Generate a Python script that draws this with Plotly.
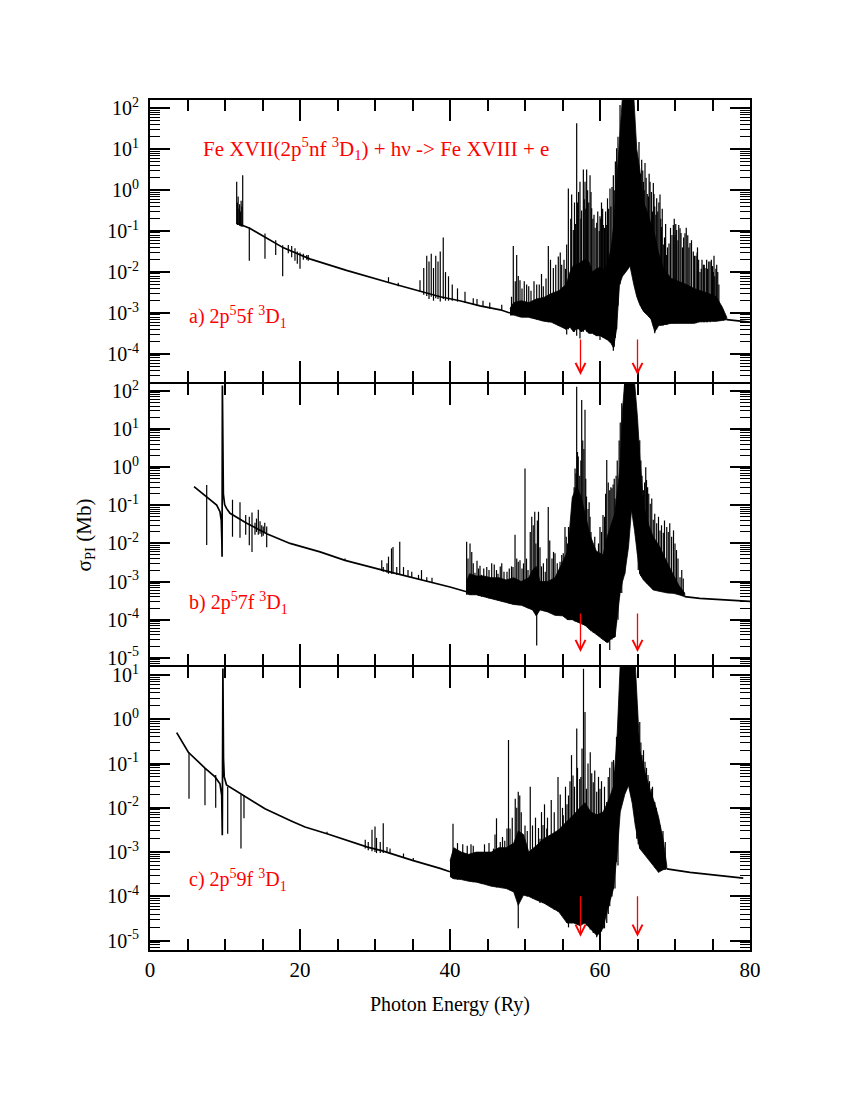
import plotly.graph_objects as go

# ---------------- panel (a): 2p5 5f 3D1  (cross section in Mb) ----------------
a_bg_x = [11.6, 13.3, 15.3, 17.8, 21.3, 26.2, 32.4, 36.0, 38.7, 41.3, 44.0, 46.7, 48.0, None, 76.9, 80.0]
a_bg_y = [0.155, 0.117, 0.072, 0.039, 0.021, 0.011, 5.2e-3, 3.5e-3, 2.5e-3, 2.0e-3, 1.5e-3, 1.2e-3, 1.0e-3, None, 6.9e-4, 6.0e-4]

a_band_x = [48.0, 48.5, 49.5, 50.5, 51.5, 52.5, 53.5, 54.5, 55.5, 56.0, 56.5, 57.0, 57.5, 58.0, 58.5,
            59.0, 59.5, 60.0, 60.5, 61.0, 61.5, 61.8, 62.2, 62.6, 63.0, 63.6, 64.0, 64.5, 64.9, 65.3,
            65.8, 66.3, 66.8, 67.3, 67.8, 68.5, 69.5, 70.5, 71.5, 72.5, 73.5, 74.5, 75.5, 76.3, 76.9]
a_band_hi = [1.3e-3, 1.8e-3, 2.0e-3, 1.8e-3, 2.2e-3, 2.4e-3, 3.0e-3, 3.5e-3, 5.0e-3, 0.01, 0.015, 0.015, 0.018, 0.02, 0.018,
             0.01, 0.012, 0.013, 0.012, 0.015, 0.04, 0.13, 1.3, 16, 200, 200, 200, 200, 10, 3.2,
             0.5, 0.3, 0.15, 0.08, 0.03, 0.012, 7.0e-3, 6.0e-3, 5.0e-3, 4.0e-3, 3.5e-3, 3.0e-3, 2.5e-3, 1.4e-3, 7.9e-4]
a_band_lo = [8.9e-4, 8.9e-4, 7.9e-4, 7.9e-4, 7.1e-4, 6.3e-4, 6.0e-4, 5.0e-4, 4.0e-4, 4.5e-4, 3.5e-4, 4.5e-4, 3.5e-4, 4.0e-4, 3.2e-4,
             3.2e-4, 2.8e-4, 2.8e-4, 2.5e-4, 2.2e-4, 1.8e-4, 1.4e-4, 4.0e-4, 5.0e-3, 7.9e-3, 0.011, 0.014, 5.0e-3, 2.5e-3, 1.6e-3,
             1.1e-3, 8.9e-4, 7.1e-4, 3.5e-4, 5.0e-4, 5.2e-4, 5.6e-4, 5.6e-4, 5.6e-4, 5.6e-4, 6.3e-4, 6.3e-4, 6.3e-4, 6.6e-4, 6.9e-4]

a_low_x = [11.56, 11.65, 11.75, 11.85, 11.95, 12.05, 12.15, 12.25, 12.36, 13.24, 15.33, 16.76, 17.69, 18.44,
           18.89, 19.33, 19.64, 20.0, 20.44, 20.9, 21.1]
a_low_hi = [1.6, 0.5, 0.7, 0.35, 0.45, 0.3, 0.55, 0.4, 2.3, 0.125, 0.087, 0.06, 0.045, 0.046,
            0.043, 0.038, 0.032, 0.03, 0.028, 0.026, 0.026]
a_low_lo = [0.15, 0.14, 0.14, 0.14, 0.135, 0.135, 0.13, 0.13, 0.13, 0.019, 0.021, 0.026, 7.9e-3, 0.029,
            0.023, 0.019, 0.016, 0.012, 0.02, 0.02, 0.019]

a_mid_x = [31.8, 33.1, 36.0, 36.5, 36.9, 37.2, 37.5, 37.8, 38.1, 38.4, 38.7, 39.1, 39.4, 39.8, 40.3, 41.0,
           42.0, 43.1, 43.6, 44.4, 45.3, 46.9]
a_mid_hi = [7.5e-3, 5.5e-3, 6.3e-3, 0.0126, 0.025, 0.018, 0.028, 0.0126, 0.025, 0.018, 0.032, 0.07, 0.01, 7.9e-3, 5.0e-3, 4.0e-3,
            3.3e-3, 2.3e-3, 2.2e-3, 2.0e-3, 1.8e-3, 1.6e-3]
a_mid_lo = [5.5e-3, 4.5e-3, 3.3e-3, 2.8e-3, 2.6e-3, 2.2e-3, 2.5e-3, 2.0e-3, 2.3e-3, 2.2e-3, 1.9e-3, 2.2e-3, 2.0e-3, 2.0e-3, 2.0e-3, 1.9e-3,
            1.75e-3, 1.6e-3, 1.5e-3, 1.4e-3, 1.3e-3, 1.15e-3]

a_res_x = [48.44, 48.89, 49.33, 50.22, 51.56, 52.44, 53.11, 53.78, 54.44, 54.89,
           55.56, 55.78, 56.22, 56.44, 56.89, 57.0, 57.33, 57.55, 57.78, 58.0,
           58.22, 58.67, 58.89, 59.2, 59.56, 60.0, 60.2, 60.44, 60.89, 61.0,
           61.33, 61.78, 62.22, 62.67,
           65.56, 65.8, 66.0, 66.3, 66.67, 67.11,
           67.3, 67.56, 68.0, 68.2, 68.44, 68.89, 69.2, 69.78, 70.0, 70.22,
           70.67, 71.0, 71.33, 71.7, 72.0, 72.44, 72.8, 73.0, 73.33, 73.78,
           74.0, 74.22, 74.67, 75.11, 75.3, 75.56, 76.0, 76.44]
a_res_hi = [0.043, 0.026, 6.3e-3, 5.0e-3, 5.0e-3, 4.5e-3, 0.043, 0.0126, 0.024, 0.015,
            0.047, 1.1, 0.78, 0.107, 43, 0.5, 1.6, 0.32, 3.2, 1.6,
            3.2, 2.3, 0.36, 0.25, 0.16, 0.23, 0.5, 0.14, 0.14, 0.63,
            1.1, 2.3, 10.5, 120,
            5.5, 1.6, 4.6, 0.8, 1.6, 1.5,
            0.4, 0.63, 0.78, 0.126, 0.047, 0.026, 0.05, 0.14, 0.079, 0.107,
            0.117, 0.04, 0.089, 0.079, 0.051, 0.032, 0.025, 0.04, 0.01, 0.015,
            0.0126, 0.02, 0.018, 0.01, 7.9e-3, 0.015, 1.45e-3, 1.2e-3]
a_res_lo = [9e-4, 9e-4, 8e-4, 8e-4, 7e-4, 6.5e-4, 6e-4, 6e-4, 5e-4, 5e-4,
            3.0e-4, 4e-4, 4e-4, 3.5e-4, 2.8e-4, 4e-4, 2.4e-4, 3.5e-4, 3.5e-4, 4e-4,
            3.5e-4, 3.2e-4, 3.2e-4, 3e-4, 2.8e-4, 2.2e-4, 2.8e-4, 2.5e-4, 2.3e-4, 2.2e-4,
            2e-4, 1.2e-4, 4e-4, 5e-3,
            1.3e-3, 1.1e-3, 1e-3, 8.9e-4, 8e-4, 5e-4,
            3.2e-4, 4e-4, 5e-4, 5e-4, 5e-4, 5.2e-4, 5.5e-4, 5.6e-4, 5.6e-4, 5.6e-4,
            5.6e-4, 5.6e-4, 5.6e-4, 5.6e-4, 5.6e-4, 5.6e-4, 5.6e-4, 6e-4, 6e-4, 6e-4,
            6e-4, 6e-4, 6e-4, 6.3e-4, 6.3e-4, 6.3e-4, 6.5e-4, 6.6e-4]

a_res2_x = [48.2, 48.7, 49.1, 49.6, 49.9, 50.5, 50.8, 51.2, 51.9, 52.2,
            52.8, 53.4, 54.1, 54.7, 55.2, 55.4, 56.1, 56.6, 56.75, 57.15,
            57.45, 57.9, 58.1, 58.35, 58.5, 58.8, 59.05, 59.35, 59.7, 59.9,
            60.1, 60.35, 60.6, 60.75, 61.15, 61.45, 61.6, 61.9, 62.05, 62.4,
            65.2, 65.4, 65.7, 65.9, 66.15, 66.45, 66.55, 66.85, 67.0, 67.2,
            67.45, 67.7, 67.85, 68.1, 68.3, 68.6, 68.75, 69.0, 69.4, 69.6,
            69.9, 70.1, 70.4, 70.5, 70.8, 71.15, 71.5, 71.85, 72.2, 72.6,
            72.95, 73.15, 73.5, 73.6, 73.9, 74.35, 74.5, 74.85, 75.0, 75.2,
            75.45, 75.7, 75.85]
a_res2_hi = [2.5e-3, 6e-3, 8e-3, 4e-3, 6e-3, 4.5e-3, 3.5e-3, 6e-3, 5e-3, 9e-3,
             7e-3, 0.02, 0.015, 0.03, 0.02, 0.012, 0.2, 0.5, 0.15, 0.9,
             0.2, 0.6, 0.35, 1.0, 0.5, 0.9, 0.2, 0.12, 0.3, 0.1,
             0.2, 0.35, 0.12, 0.3, 0.35, 0.4, 1.2, 1.0, 5, 20,
             15, 2.5, 3, 1.0, 2.0, 0.7, 2.5, 0.9, 0.3, 0.8,
             0.25, 0.3, 0.5, 0.2, 0.35, 0.07, 0.15, 0.04, 0.12, 0.08,
             0.2, 0.15, 0.06, 0.14, 0.09, 0.07, 0.12, 0.04, 0.06, 0.025,
             0.03, 0.02, 0.012, 0.02, 0.015, 0.012, 0.018, 0.02, 0.014, 0.025,
             0.012, 0.01, 5e-3]
a_res2_lo = [9e-4, 9e-4, 8.5e-4, 8e-4, 8e-4, 7.9e-4, 7.5e-4, 7.2e-4, 6.8e-4, 6.5e-4,
             6.2e-4, 6e-4, 5.5e-4, 5e-4, 4.5e-4, 4e-4, 4.5e-4, 3.5e-4, 4e-4, 4e-4,
             3.5e-4, 4e-4, 4e-4, 3.5e-4, 3.2e-4, 3.2e-4, 3.2e-4, 3e-4, 2.8e-4, 2.8e-4,
             2.8e-4, 2.6e-4, 2.5e-4, 2.4e-4, 2.2e-4, 1.9e-4, 1.7e-4, 1.5e-4, 2.5e-4, 1.5e-3,
             2e-3, 1.5e-3, 1.2e-3, 1.1e-3, 9.5e-4, 8.5e-4, 8e-4, 7e-4, 6e-4, 4.5e-4,
             4e-4, 4.5e-4, 5e-4, 5e-4, 5e-4, 5.2e-4, 5.2e-4, 5.3e-4, 5.5e-4, 5.5e-4,
             5.6e-4, 5.6e-4, 5.6e-4, 5.6e-4, 5.6e-4, 5.6e-4, 5.6e-4, 5.6e-4, 5.6e-4, 5.6e-4,
             6e-4, 6e-4, 6e-4, 6e-4, 6e-4, 6e-4, 6.3e-4, 6.3e-4, 6.3e-4, 6.3e-4,
             6.3e-4, 6.4e-4, 6.5e-4]

# ---------------- panel (b): 2p5 7f 3D1 ----------------
b_bg_x = [5.87, 6.67, 7.56, 8.89, 9.33, 9.5, 9.58, 9.61, 9.65, 9.7, 9.78, 9.95, 10.2, 10.67, 12.9, 15.56,
          18.67, 22.67, 26.0, 31.0, 33.0, 36.0, 40.0, 42.2, None, 71.3, 73.3, 80.0]
b_bg_y = [0.31, 0.23, 0.17, 0.102, 0.068, 0.041, 0.012, 4.5e-3, 140, 0.45, 0.2, 0.105, 0.083, 0.062, 0.034, 0.018,
          0.01, 6.0e-3, 3.6e-3, 2.0e-3, 1.6e-3, 1.1e-3, 7.2e-4, 5.4e-4, None, 4.0e-4, 3.6e-4, 3.0e-4]

b_band_x = [42.2, 42.6, 43.5, 44.5, 45.5, 46.5, 47.5, 48.5, 49.5, 50.5,
            51.0, 51.5, 52.0, 53.0, 54.0, 55.0, 55.7, 56.3, 56.9, 57.5,
            58.0, 58.7, 59.5, 60.4, 61.0, 61.5, 62.0, 62.67, 63.0, 63.3,
            63.8, 64.2, 64.6, 65.0, 65.3, 65.8, 66.5, 67.1, 68.0, 69.0,
            69.8, 70.5, 71.3]
b_band_hi = [1.0e-3, 1.6e-3, 1.4e-3, 1.4e-3, 1.26e-3, 1.26e-3, 1.1e-3, 1.26e-3, 1.0e-3, 1.26e-3,
             2.0e-3, 2.5e-3, 1.0e-3, 1.0e-3, 1.26e-3, 3.2e-3, 6.3e-3, 0.16, 0.32, 0.16,
             0.063, 0.016, 6.3e-3, 5.0e-3, 0.016, 0.032, 0.063, 1.0, 32, 180,
             180, 180, 180, 20, 2.0, 0.1, 0.03, 0.015, 8.0e-3, 3.0e-3,
             1.5e-3, 8.0e-4, 5.0e-4]
b_band_lo = [5.0e-4, 4.5e-4, 4.5e-4, 4.0e-4, 3.5e-4, 3.2e-4, 2.8e-4, 2.5e-4, 2.4e-4, 2.0e-4,
             1.8e-4, 1.26e-4, 1.8e-4, 1.6e-4, 1.3e-4, 1.26e-4, 1.0e-4, 1.0e-4, 8.9e-5, 7.9e-5,
             7.1e-5, 5.4e-5, 4.0e-5, 3.0e-5, 2.5e-5, 3.2e-5, 3.5e-5, 4.9e-4, 1.0e-3, 1.6e-3,
             8.0e-3, 0.076, 0.022, 5.5e-3, 1.6e-3, 1.1e-3, 7.9e-4, 6.0e-4, 5.6e-4, 5.0e-4,
             4.9e-4, 4.5e-4, 4.0e-4]

b_low_x = [7.56, 11.0, 12.0, 12.76, 13.24, 13.6, 14.0, 14.2, 14.44, 14.67, 14.9, 15.1, 15.3, 15.56]
b_low_hi = [0.34, 0.14, 0.12, 0.056, 0.05, 0.065, 0.035, 0.045, 0.076, 0.038, 0.03, 0.028, 0.035, 0.028]
b_low_lo = [9.1e-3, 0.015, 0.014, 0.017, 9e-3, 6.0e-3, 0.017, 0.02, 0.017, 0.018, 0.015, 0.016, 0.02, 7.9e-3]

b_mid_x = [26.0, 30.9, 31.1, 31.6, 31.8, 32.2, 32.4, 32.9, 33.3, 33.8, 34.4, 34.9, 35.8, 36.2, 36.9, 37.6]
b_mid_hi = [4.0e-3, 3.6e-3, 2.4e-3, 3.0e-3, 4.5e-3, 7.4e-3, 8.1e-3, 2.4e-3, 0.011, 2.4e-3, 2.0e-3, 1.8e-3, 1.5e-3, 2.0e-3, 1.3e-3, 1.25e-3]
b_mid_lo = [3.6e-3, 1.9e-3, 1.8e-3, 1.7e-3, 1.6e-3, 1.6e-3, 1.6e-3, 1.5e-3, 1.5e-3, 1.45e-3, 1.35e-3, 1.3e-3, 1.15e-3, 1.1e-3, 1.0e-3, 9.5e-4]

b_res_x = [42.22, 42.67, 43.1, 43.33, 43.8, 44.2, 45.56, 46.4, 46.9, 47.6,
           48.2, 48.67, 49.1, 49.33, 50.0, 50.4, 50.9, 51.3, 51.56, 51.8,
           52.2, 52.7, 53.1, 53.3, 54.0, 54.67, 55.1, 55.33, 55.8, 56.2,
           56.67, 56.89, 57.1, 57.56, 58.0, 58.2, 58.67, 59.1, 59.56, 60.0,
           60.4, 60.9, 61.3, 61.6, 62.0, 62.4, 62.9, 63.3, 65.0, 65.1,
           65.3, 65.8, 66.2, 66.7, 67.1, 67.56, 68.0, 68.44, 68.9, 69.3,
           69.8, 70.2, 70.67, 71.1]
b_res_hi = [0.011, 0.01, 3.0e-3, 1.7e-3, 2.2e-3, 1.5e-3, 3.0e-3, 1.6e-3, 3.0e-3, 1.8e-3,
            2.5e-3, 0.017, 3.3e-3, 3.6e-3, 0.93, 2.0e-3, 0.05, 0.068, 2.0e-3, 0.068,
            2.5e-3, 1.8e-3, 0.091, 0.012, 5.5e-3, 3.3e-3, 5.5e-3, 0.027, 0.027, 0.019,
            0.93, 130, 1.9, 58, 32, 0.17, 0.05, 8.3e-3, 2.5e-3, 0.027,
            0.056, 1.55, 0.25, 0.28, 0.15, 0.2, 48, 160, 0.09, 0.69,
            5.1, 0.25, 0.46, 0.11, 0.042, 0.034, 0.022, 0.019, 0.027, 0.034,
            0.022, 6.7e-3, 1.3e-3, 1.2e-3]
b_res_lo = [4.5e-4, 4.5e-4, 4.5e-4, 4.5e-4, 4.2e-4, 4.0e-4, 3.5e-4, 3.2e-4, 3.0e-4, 2.8e-4,
            2.6e-4, 2.5e-4, 2.4e-4, 2.4e-4, 2.2e-4, 2.0e-4, 1.9e-4, 1.8e-4, 2.1e-5, 1.7e-4,
            1.8e-4, 1.7e-4, 1.6e-4, 1.6e-4, 1.3e-4, 1.3e-4, 1.26e-4, 1.2e-4, 1.0e-4, 1.0e-4,
            9e-5, 9e-5, 8.5e-5, 8e-5, 7e-5, 7e-5, 5.4e-5, 4.5e-5, 4e-5, 3.5e-5,
            3e-5, 2.5e-5, 1.6e-5, 3e-5, 3.5e-5, 1e-4, 5e-4, 1.6e-3, 5.5e-3, 2e-3,
            1.6e-3, 1.1e-3, 9e-4, 8e-4, 6e-4, 6e-4, 5.6e-4, 5.4e-4, 5.2e-4, 5e-4,
            4.9e-4, 4.8e-4, 4.5e-4, 4.2e-4]

b_res2_x = [42.4, 42.9, 43.6, 44.0, 44.5, 44.9, 45.2, 45.9, 46.2, 46.7,
            47.2, 47.9, 48.4, 48.9, 49.6, 49.8, 50.2, 50.7, 51.1, 51.45,
            51.65, 52.0, 52.45, 52.9, 53.6, 53.8, 54.3, 54.9, 55.5, 55.65,
            56.0, 56.4, 56.55, 56.8, 57.0, 57.3, 57.45, 57.7, 57.85, 58.1,
            58.4, 58.55, 58.8, 59.3, 59.8, 60.2, 60.6, 60.75, 61.1, 61.45,
            61.75, 61.9, 62.15, 62.3, 62.55, 62.7, 65.45, 65.6, 65.95, 66.1,
            66.35, 66.5, 66.9, 67.3, 67.8, 68.2, 68.6, 69.1, 69.55, 70.0,
            70.4, 70.9]
b_res2_hi = [4e-3, 6e-3, 3.5e-3, 2.6e-3, 2.2e-3, 2.4e-3, 2.0e-3, 2.8e-3, 2.0e-3, 2.5e-3,
             1.8e-3, 2.2e-3, 2.4e-3, 4e-3, 2.2e-3, 3e-3, 4e-3, 0.02, 0.03, 0.01,
             0.04, 8e-3, 3e-3, 4e-3, 4e-3, 6e-3, 3e-3, 5e-3, 0.015, 0.01,
             0.02, 0.05, 0.3, 0.7, 2.5, 0.6, 1.5, 5.0, 3.0, 0.5,
             0.08, 0.12, 0.02, 0.015, 0.01, 0.02, 0.05, 0.2, 0.4, 0.3,
             0.35, 0.5, 0.6, 1.5, 5, 15, 1.5, 0.6, 0.4, 1.0,
             0.3, 0.2, 0.15, 0.06, 0.05, 0.03, 0.04, 0.02, 0.015, 0.01,
             4e-3, 2e-3]
b_res2_lo = [4.5e-4, 4.5e-4, 4.5e-4, 4.2e-4, 4e-4, 3.8e-4, 3.6e-4, 3.4e-4, 3.3e-4, 3.1e-4,
             2.9e-4, 2.6e-4, 2.5e-4, 2.45e-4, 2.4e-4, 2.3e-4, 2.1e-4, 2e-4, 1.8e-4, 1.3e-4,
             1.4e-4, 1.8e-4, 1.7e-4, 1.65e-4, 1.5e-4, 1.4e-4, 1.3e-4, 1.26e-4, 1.1e-4, 1e-4,
             1e-4, 1e-4, 9.5e-5, 9e-5, 8.5e-5, 8e-5, 7.9e-5, 7.5e-5, 7.2e-5, 7e-5,
             6e-5, 5.6e-5, 5e-5, 4.5e-5, 3.8e-5, 3.2e-5, 2.8e-5, 2.6e-5, 2.5e-5, 3e-5,
             3.3e-5, 3.5e-5, 8e-5, 2e-4, 4e-4, 5e-4, 1.4e-3, 1.3e-3, 1.1e-3, 1e-3,
             9e-4, 8e-4, 7e-4, 6e-4, 5.6e-4, 5.5e-4, 5.3e-4, 5e-4, 5e-4, 4.9e-4,
             4.6e-4, 4.4e-4]

# ---------------- panel (c): 2p5 9f 3D1 ----------------
c_bg_x = [3.56, 5.11, 7.33, 8.67, 9.33, 9.56, 9.64, 9.72, 9.8, 9.9, 10.2, 11.33, 12.67, 15.33, 18.9, 20.67,
          23.6, 29.0, 31.0, 35.0, 38.67, 40.0, None, 68.9, 72.0, 79.1]
c_bg_y = [0.5, 0.18, 0.079, 0.05, 0.035, 0.019, 2.4e-3, 14, 0.13, 0.05, 0.033, 0.025, 0.018, 9.5e-3, 5.0e-3, 3.7e-3,
          2.6e-3, 1.3e-3, 1.07e-3, 6.5e-4, 4.3e-4, 3.6e-4, None, 4.2e-4, 3.5e-4, 2.6e-4]

c_band_x = [40.0, 40.5, 41.5, 42.5, 43.5, 44.5, 45.5, 46.5, 47.5, 48.5,
            49.1, 49.8, 50.5, 51.5, 52.5, 53.5, 54.5, 55.6, 56.5, 57.3,
            58.0, 58.8, 59.6, 60.4, 61.0, 61.8, 62.3, 62.7, 63.3, 63.8,
            64.3, 64.7, 65.3, 66.0, 66.7, 67.3, 67.8, 68.4, 68.9]
c_band_hi = [6.3e-4, 1.26e-3, 1.0e-3, 8.9e-4, 1.0e-3, 1.0e-3, 1.0e-3, 1.26e-3, 1.26e-3, 1.6e-3,
             3.0e-3, 2.5e-3, 1.0e-3, 1.4e-3, 2.0e-3, 2.5e-3, 3.2e-3, 5.0e-3, 7.0e-3, 0.01,
             0.013, 8.0e-3, 7.0e-3, 8.0e-3, 0.013, 0.03, 0.5, 18, 18, 18,
             18, 18, 0.2, 0.063, 0.025, 0.0126, 6.3e-3, 2.0e-3, 5.0e-4]
c_band_lo = [2.8e-4, 2.5e-4, 2.4e-4, 2.2e-4, 2.1e-4, 1.9e-4, 1.7e-4, 1.6e-4, 1.5e-4, 1.26e-4,
             6.3e-5, 1.07e-4, 1.0e-4, 8.3e-5, 7.1e-5, 5.6e-5, 4.5e-5, 2.5e-5, 2.5e-5, 2.2e-5,
             2.5e-5, 1.8e-5, 1.3e-5, 1.9e-5, 5.0e-5, 1.5e-4, 1.0e-3, 8.1e-3, 0.02, 0.032,
             0.0126, 4.0e-3, 1.2e-3, 8.9e-4, 6.0e-4, 4.5e-4, 3.5e-4, 4.0e-4, 4.2e-4]

c_low_x = [5.2, 7.33, 8.76, 10.36, 12.13, 12.53]
c_low_hi = [0.18, 0.079, 0.055, 0.03, 0.02, 0.019]
c_low_lo = [0.016, 0.0115, 0.01, 2.6e-3, 1.2e-3, 5.8e-3]

c_mid_x = [23.6, 28.7, 29.1, 29.6, 30.0, 30.2, 30.7, 31.1, 31.6, 32.0, 33.8, 35.1]
c_mid_hi = [2.9e-3, 1.9e-3, 1.7e-3, 3.2e-3, 3.8e-3, 2.1e-3, 1.7e-3, 4.5e-3, 1.3e-3, 1.2e-3, 9.3e-4, 7.4e-4]
c_mid_lo = [2.6e-3, 1.2e-3, 1.1e-3, 1.05e-3, 1.0e-3, 9.5e-4, 9.5e-4, 9.5e-4, 9.5e-4, 9.2e-4, 7.8e-4, 6.5e-4]

c_res_x = [40.4, 43.1, 44.2, 45.8, 46.2, 46.7, 47.6, 47.8, 48.0, 48.7,
           49.1, 49.3, 49.8, 50.7, 52.0, 52.4, 52.9, 53.3, 53.8, 54.2,
           54.4, 55.1, 55.8, 56.2, 56.4, 56.9, 57.3, 57.6, 57.8, 58.0,
           58.2, 58.7, 59.1, 59.56, 60.0, 60.4, 60.9, 61.6, 62.0, 62.4,
           65.3, 65.6, 66.0, 66.4, 66.9, 67.3, 67.8, 68.2, 68.7]
c_res_hi = [4.4e-3, 1.4e-3, 1.0e-3, 1.2e-3, 5.8e-3, 1.7e-3, 3.4e-3, 0.34, 3.4e-3, 0.016,
            0.023, 0.019, 2.4e-3, 0.03, 2.0e-3, 4.1e-3, 3.4e-3, 2.4e-3, 2.0e-3, 2.4e-3,
            0.05, 6.8e-3, 0.019, 0.155, 0.054, 0.62, 0.045, 0.22, 13.8, 1.46,
            0.027, 0.18, 0.038, 0.023, 0.027, 8.1e-3, 0.0135, 0.11, 0.065, 0.13,
            0.87, 0.155, 0.11, 0.055, 0.027, 0.0135, 2.4e-3, 2.8e-3, 1.7e-3]
c_res_lo = [2.5e-4, 2.1e-4, 1.9e-4, 1.7e-4, 1.6e-4, 1.6e-4, 1.5e-4, 1.5e-4, 1.4e-4, 1.3e-4,
            1.9e-5, 1.2e-4, 1.07e-4, 1.0e-4, 7.1e-5, 7.0e-5, 6.5e-5, 6.0e-5, 5.6e-5, 5.0e-5,
            4.5e-5, 4.0e-5, 2.0e-5, 2.5e-5, 2.5e-5, 2.5e-5, 2.2e-5, 2.4e-5, 2.5e-5, 2.5e-5,
            2.2e-5, 1.8e-5, 1.5e-5, 1.2e-5, 1.3e-5, 1.9e-5, 2.5e-5, 1.0e-4, 1.5e-4, 5.0e-4,
            1.2e-3, 1.1e-3, 8.9e-4, 7.5e-4, 6.0e-4, 4.5e-4, 3.5e-4, 3.8e-4, 4.0e-4]

c_res2_x = [41.0, 41.7, 42.3, 42.8, 44.6, 45.2, 46.0, 47.0, 47.3, 48.3,
            48.9, 49.5, 50.0, 50.3, 51.0, 51.4, 51.8, 52.2, 52.6, 53.0,
            53.5, 53.9, 54.7, 55.0, 55.4, 55.6, 56.0, 56.6, 57.0, 57.45,
            58.4, 58.9, 59.3, 59.8, 60.2, 60.6, 61.1, 61.3, 61.8, 62.2,
            64.9, 65.1, 65.45, 65.8, 66.2, 66.6, 67.0, 67.5, 68.0, 68.4]
c_res2_hi = [1.6e-3, 1.5e-3, 1.4e-3, 1.5e-3, 1.5e-3, 1.6e-3, 2.5e-3, 2.2e-3, 1.8e-3, 6e-3,
             0.01, 8e-3, 4e-3, 3e-3, 4e-3, 6e-3, 3.5e-3, 8e-3, 0.012, 6e-3,
             0.015, 8e-3, 0.02, 0.01, 0.03, 0.012, 0.04, 0.03, 0.08, 0.05,
             0.1, 0.06, 0.07, 0.05, 0.04, 0.03, 0.05, 0.08, 0.12, 0.4,
             2.0, 0.4, 0.3, 0.2, 0.08, 0.04, 0.03, 0.01, 4e-3, 3e-3]
c_res2_lo = [2.4e-4, 2.4e-4, 2.3e-4, 2.2e-4, 1.9e-4, 1.8e-4, 1.7e-4, 1.6e-4, 1.55e-4, 1.4e-4,
             1.2e-4, 1.1e-4, 1.05e-4, 1.0e-4, 9e-5, 8.5e-5, 8e-5, 7.5e-5, 7e-5, 6.5e-5,
             5.6e-5, 5e-5, 4.2e-5, 3.8e-5, 3e-5, 2.5e-5, 2.5e-5, 2.5e-5, 2.3e-5, 2.2e-5,
             2.4e-5, 1.8e-5, 1.6e-5, 1.4e-5, 1.6e-5, 1.9e-5, 4e-5, 6e-5, 1.5e-4, 6e-4,
             2e-3, 1.5e-3, 1.2e-3, 1.1e-3, 9e-4, 7.5e-4, 6e-4, 4.5e-4, 3.8e-4, 4e-4]

# ionisation thresholds marked with red arrows (Ry)
thresholds = [57.4, 65.0]

panel_labels = ["a) 2p<sup>5</sup>5f <sup>3</sup>D<sub>1</sub>",
                "b) 2p<sup>5</sup>7f <sup>3</sup>D<sub>1</sub>",
                "c) 2p<sup>5</sup>9f <sup>3</sup>D<sub>1</sub>"]


def spike_xy(groups):
    xs, ys = [], []
    for gx, ghi, glo in groups:
        for x, h, l in zip(gx, ghi, glo):
            xs += [x, x, None]
            ys += [l, h, None]
    return xs, ys


panels = [
    dict(bg=(a_bg_x, a_bg_y), band=(a_band_x, a_band_hi, a_band_lo),
         spikes=[(a_low_x, a_low_hi, a_low_lo), (a_mid_x, a_mid_hi, a_mid_lo),
                 (a_res_x, a_res_hi, a_res_lo), (a_res2_x, a_res2_hi, a_res2_lo)]),
    dict(bg=(b_bg_x, b_bg_y), band=(b_band_x, b_band_hi, b_band_lo),
         spikes=[(b_low_x, b_low_hi, b_low_lo), (b_mid_x, b_mid_hi, b_mid_lo),
                 (b_res_x, b_res_hi, b_res_lo), (b_res2_x, b_res2_hi, b_res2_lo)]),
    dict(bg=(c_bg_x, c_bg_y), band=(c_band_x, c_band_hi, c_band_lo),
         spikes=[(c_low_x, c_low_hi, c_low_lo), (c_mid_x, c_mid_hi, c_mid_lo),
                 (c_res_x, c_res_hi, c_res_lo), (c_res2_x, c_res2_hi, c_res2_lo)]),
]

FONT = "Liberation Serif"
RED = "#ff0000"

fig = go.Figure()

for i, p in enumerate(panels, start=1):
    xa = "x" if i == 1 else f"x{i}"
    ya = "y" if i == 1 else f"y{i}"
    sx, sy = spike_xy(p["spikes"])
    fig.add_trace(go.Scatter(x=sx, y=sy, mode="lines", xaxis=xa, yaxis=ya,
                             line=dict(color="black", width=1.2), showlegend=False))
    bx, bhi, blo = p["band"]
    fig.add_trace(go.Scatter(x=bx + bx[::-1], y=bhi + blo[::-1], mode="lines", fill="toself",
                             fillcolor="black", xaxis=xa, yaxis=ya,
                             line=dict(color="black", width=0.8), showlegend=False))
    fig.add_trace(go.Scatter(x=p["bg"][0], y=p["bg"][1], mode="lines", xaxis=xa, yaxis=ya,
                             line=dict(color="black", width=1.7), showlegend=False))

# axes (panels touch; domains overlap by the frame width so the shared edge is one line)
y_ranges = [[-4.683, 2.2], [-5.19, 2.184], [-5.21, 1.18]]
y_domains = [[0.66824, 1.0], [0.33529, 0.66588], [0.0, 0.33294]]
y_decades = [range(-4, 3), range(-5, 3), range(-5, 2)]
minor_logs = [k * 10.0 ** e for e in range(-7, 3) for k in range(2, 10)]

common = dict(showline=True, linecolor="black", linewidth=2, mirror="ticks", ticks="inside",
              tickcolor="black", tickwidth=1.8, showgrid=False, zeroline=False)

layout_axes = {}
for i in range(1, 4):
    xs = "xaxis" if i == 1 else f"xaxis{i}"
    ys = "yaxis" if i == 1 else f"yaxis{i}"
    ya = "y" if i == 1 else f"y{i}"
    xa = "x" if i == 1 else f"x{i}"
    layout_axes[xs] = dict(common, domain=[0, 1], anchor=ya, range=[0, 80],
                           tickvals=[0, 20, 40, 60, 80], ticklen=21,
                           minor=dict(tickmode="linear", tick0=0, dtick=5, ticklen=11, ticks="inside",
                                      tickwidth=1.5, tickcolor="black"),
                           showticklabels=(i == 3), ticklabelstandoff=0,
                           tickfont=dict(family=FONT, size=21, color="black"))
    layout_axes[ys] = dict(common, domain=y_domains[i - 1], anchor=xa, type="log",
                           range=y_ranges[i - 1],
                           tickvals=[10.0 ** e for e in y_decades[i - 1]],
                           ticktext=[f"10<sup>{e}</sup>" for e in y_decades[i - 1]],
                           ticklen=20, ticklabelstandoff=5,
                           minor=dict(tickmode="array", tickvals=minor_logs, ticklen=10, ticks="inside",
                                      tickwidth=1.1, tickcolor="black"),
                           tickfont=dict(family=FONT, size=20, color="black"))

annotations = [
    dict(text="Fe XVII(2p<sup>5</sup>nf <sup>3</sup>D<sub>1</sub>) + h\u03bd -> Fe XVIII + e",
         xref="paper", yref="paper", x=0.085, y=0.9435, xanchor="left", yanchor="middle",
         showarrow=False, font=dict(family=FONT, size=21, color=RED)),
    dict(text=panel_labels[0], xref="paper", yref="paper", x=0.062, y=0.7447,
         xanchor="left", yanchor="middle", showarrow=False, font=dict(family=FONT, size=20, color=RED)),
    dict(text=panel_labels[1], xref="paper", yref="paper", x=0.062, y=0.408,
         xanchor="left", yanchor="middle", showarrow=False, font=dict(family=FONT, size=20, color=RED)),
    dict(text=panel_labels[2], xref="paper", yref="paper", x=0.062, y=0.0824,
         xanchor="left", yanchor="middle", showarrow=False, font=dict(family=FONT, size=20, color=RED)),
    dict(text="Photon Energy (Ry)", xref="paper", yref="paper", x=0.5, y=-0.0647,
         xanchor="center", yanchor="middle", showarrow=False, font=dict(family=FONT, size=20, color="black")),
    dict(text="\u03c3<sub>PI</sub> (Mb)", xref="paper", yref="paper", x=-0.108, y=0.488,
         xanchor="center", yanchor="middle", textangle=-90, showarrow=False,
         font=dict(family=FONT, size=21, color="black")),
]

# arrow tips (log10 of axis value) and tail lengths in px for each panel
arrow_tip = [-4.51, -4.85, -4.91]
arrow_len = [37, 40, 42]
for i in range(1, 4):
    xa = "x" if i == 1 else f"x{i}"
    ya = "y" if i == 1 else f"y{i}"
    for t in thresholds:
        annotations.append(dict(x=t, y=arrow_tip[i - 1], xref=xa, yref=ya, text="",
                                showarrow=True, ax=0, ay=-arrow_len[i - 1], arrowhead=5,
                                arrowsize=1.5, arrowwidth=1.3, arrowcolor=RED, standoff=0))

# the page body adds an 8 px offset, so the margins are trimmed by that amount
fig.update_layout(width=850, height=1100, margin=dict(l=142, r=108, t=92, b=158),
                  paper_bgcolor="white", plot_bgcolor="white", showlegend=False,
                  annotations=annotations, **layout_axes)

fig.write_html("out.html")
